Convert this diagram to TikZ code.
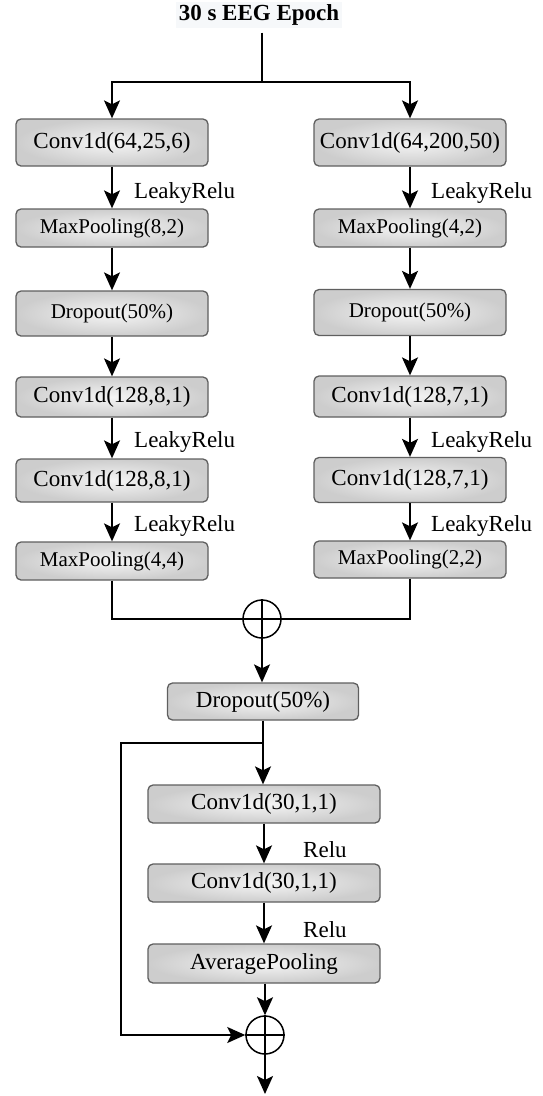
\documentclass[tikz,border=0pt]{standalone}
\usepackage{fontspec}
\setmainfont{Liberation Serif}
\usetikzlibrary{arrows.meta,shapes.geometric}
\definecolor{boxin}{RGB}{245,245,245}
\definecolor{boxout}{RGB}{205,205,205}
\definecolor{boxline}{RGB}{95,95,95}
\definecolor{titlebg}{RGB}{246,248,250}
\tikzset{
  blk/.style={draw=boxline, line width=1.3pt, rounded corners=5pt,
    shading=radial, inner color=boxin, outer color=boxout,
    minimum width=192pt, inner sep=0pt, font=\fontsize{23}{27}\selectfont},
  blks/.style={blk, font=\fontsize{21}{25}\selectfont},
  wide/.style={minimum width=232pt},
  lbl/.style={anchor=base west, inner sep=0pt, font=\fontsize{23}{27}\selectfont},
  conn/.style={line width=1.7pt, draw=black},
  arr/.style={conn, -{Stealth[length=18pt,width=16pt,inset=4pt]}},
  sumc/.style={circle, draw=black, line width=1.5pt, minimum size=38pt, inner sep=0pt},
}
\begin{document}
\begin{tikzpicture}[x=1pt,y=-1pt]
\useasboundingbox (0,0) rectangle (543,1096);
% title
\node[fill=titlebg, inner sep=3pt, font=\fontsize{23}{27}\selectfont\bfseries] (title) at (259,15) {30 s EEG Epoch};
\coordinate (split) at (262,82);
% left column
\node[blk, minimum height=47pt] (c1L) at (112,142.5) {Conv1d(64,25,6)};
\node[blks, minimum height=38pt] (m1L) at (112,228) {MaxPooling(8,2)};
\node[blks, minimum height=45pt] (d1L) at (112,313.5) {Dropout(50\%)};
\node[blk, minimum height=40pt] (c2L) at (112,397) {Conv1d(128,8,1)};
\node[blk, minimum height=43pt] (c3L) at (112,480.5) {Conv1d(128,8,1)};
\node[blks, minimum height=38pt] (m2L) at (112,561) {MaxPooling(4,4)};
% right column
\node[blk, minimum height=47pt] (c1R) at (410,142.5) {Conv1d(64,200,50)};
\node[blks, minimum height=38pt] (m1R) at (410,228) {MaxPooling(4,2)};
\node[blks, minimum height=46pt] (d1R) at (410,312.5) {Dropout(50\%)};
\node[blk, minimum height=41pt] (c2R) at (410,396.5) {Conv1d(128,7,1)};
\node[blk, minimum height=45pt] (c3R) at (410,480) {Conv1d(128,7,1)};
\node[blks, minimum height=37pt] (m2R) at (410,559.5) {MaxPooling(2,2)};
% labels
\node[lbl] (l1L) at (134,198) {LeakyRelu};
\node[lbl] (l2L) at (134,447) {LeakyRelu};
\node[lbl] (l3L) at (134,531) {LeakyRelu};
\node[lbl] (l1R) at (431,198) {LeakyRelu};
\node[lbl] (l2R) at (431,447) {LeakyRelu};
\node[lbl] (l3R) at (431,531) {LeakyRelu};
% merge 1
\node[sumc] (s1) at (262,619) {};
% bottom part
\node[blk, minimum height=37pt, minimum width=191pt] (d2) at (263,701.5) {Dropout(50\%)};
\coordinate (skip) at (263,743);
\coordinate (skipL) at (121,743);
\node[blk, wide, minimum height=38pt] (c4) at (264,804) {Conv1d(30,1,1)};
\node[blk, wide, minimum height=38pt] (c5) at (264,883) {Conv1d(30,1,1)};
\node[blk, wide, minimum height=39pt] (ap) at (264,963.5) {AveragePooling};
\node[lbl] (r1) at (303,857) {Relu};
\node[lbl] (r2) at (303,937) {Relu};
\node[sumc] (s2) at (265,1035) {};
\coordinate (out) at (265,1094);
% connectors top
\draw[conn] ([yshift=-4pt]title.south -| split) -- (split);
\draw[arr] (split) -| (c1L);
\draw[arr] (split) -| (c1R);
\foreach \a/\b in {c1L/m1L,m1L/d1L,d1L/c2L,c2L/c3L,c3L/m2L,c1R/m1R,m1R/d1R,d1R/c2R,c2R/c3R,c3R/m2R}
  \draw[arr] (\a) -- (\b);
\draw[conn] (m2L) |- (s1.west);
\draw[conn] (m2R) |- (s1.east);
\draw[line width=1.3pt] (s1.north) -- (s1.south) (s1.west) -- (s1.east);
\draw[arr] (s1.south) -- (s1.south |- d2.north);
% bottom connectors
\draw[conn] (d2.south -| skip) -- (skip);
\draw[arr] (skip) -- (skip |- c4.north);
\draw[arr] (c4) -- (c5);
\draw[arr] (c5) -- (ap);
\draw[arr] (ap.south -| s2) -- (s2);
\draw[arr] (skip) -- (skipL) |- (s2.west);
\draw[line width=1.3pt] (s2.north) -- (s2.south) (s2.west) -- (s2.east);
\draw[arr] (s2.south) -- (out);
\end{tikzpicture}
\end{document}
